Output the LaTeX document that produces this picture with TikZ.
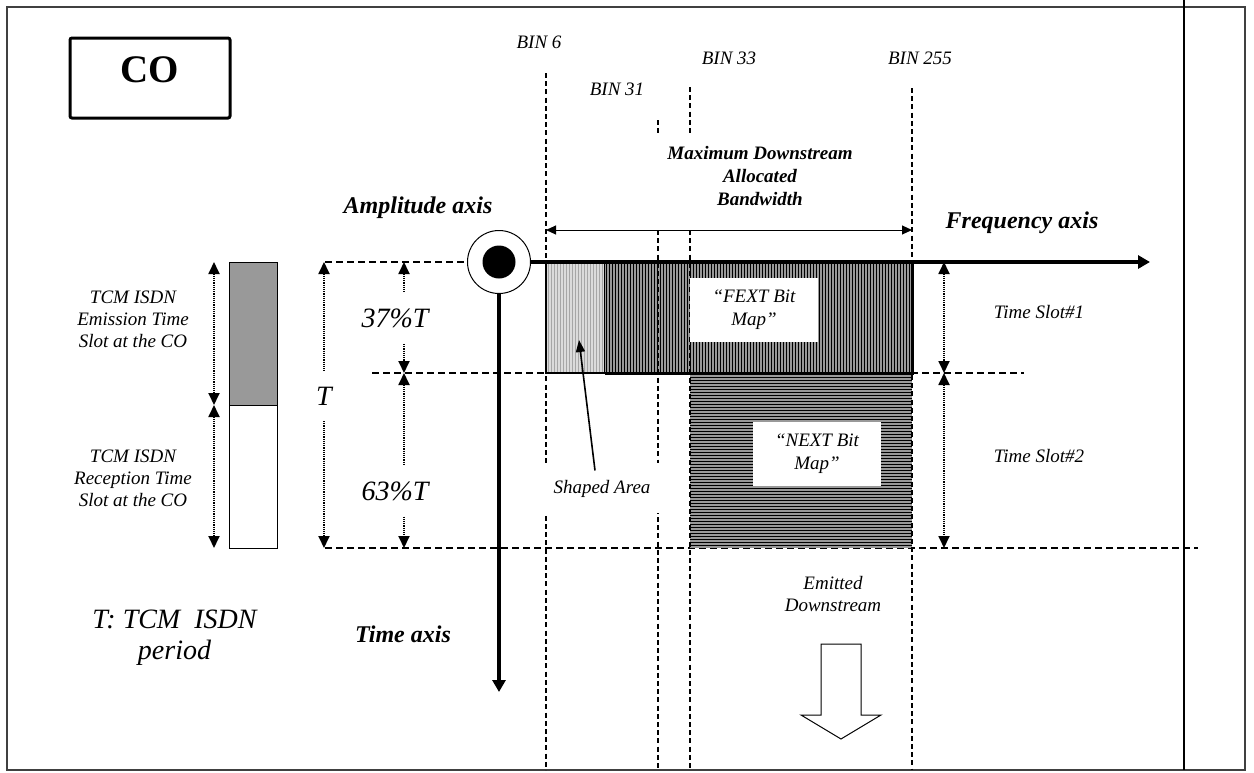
\documentclass[tikz,border=0pt]{standalone}
\usepackage{fontspec}
\setmainfont{Liberation Serif}
\usetikzlibrary{arrows.meta, positioning, calc}
\tikzset{
	txtlbl/.style={font=\fontsize{9.5}{11}\selectfont\itshape, align=center, inner sep=1pt},
	boldlbl/.style={font=\fontsize{9.5}{11.5}\selectfont\bfseries\itshape, align=center, inner sep=1pt},
	axislbl/.style={font=\fontsize{12}{14}\selectfont\bfseries\itshape, inner sep=0pt},
	biglbl/.style={font=\fontsize{14}{15.5}\selectfont\itshape, align=center, inner sep=1pt},
	dimlbl/.style={biglbl, fill=white, minimum height=25pt, anchor=base},
	mapbox/.style={fill=white, font=\fontsize{9.5}{11.5}\selectfont\itshape, align=center, minimum width=64pt, minimum height=32pt, inner sep=0pt},
	binline/.style={line width=0.9pt, dash pattern=on 2.5pt off 1.6pt},
	levelline/.style={line width=0.8pt, dash pattern=on 3.5pt off 2pt},
	dimarr/.style={{Triangle[length=6pt,width=5.5pt]}-{Triangle[length=6pt,width=5.5pt]}, line width=0.9pt, dash pattern=on 0.6pt off 0.5pt},
	bwarr/.style={{Triangle[length=5pt,width=4.5pt]}-{Triangle[length=5pt,width=4.5pt]}, line width=0.5pt},
	axisarr/.style={-{Triangle[length=6pt,width=6.5pt]}, line width=2pt},
	ptrarr/.style={-{Triangle[length=6pt,width=4.5pt]}, line width=0.8pt},
	hatchline/.style={line width=0.6pt},
}

\begin{document}
\begin{tikzpicture}[x=0.5pt, y=-0.5pt]
	\useasboundingbox (0,0) rectangle (1254,772);
	% frame
	\draw[line width=0.6pt, black!75] (7,7) rectangle (1245,770);
	\draw[line width=1pt] (1184,0) -- (1184,770);
	\node[draw, line width=1.5pt, rounded corners=1pt, minimum width=80pt, minimum height=40pt, text depth=8pt, font=\fontsize{19.5}{19.5}\selectfont\bfseries] (co) at (150,78) {CO};

	% time levels
	\draw[levelline] (325,262) -- (467,262);
	\draw[levelline] (372,373) -- (1024,373);
	\draw[levelline] (325,548) -- (1198,548);

	% shaped area, FEXT and NEXT maps
	\fill[black!14] (546,262) rectangle (605,373);
	\foreach \x in {548.5,551.5,...,604} \draw[hatchline, black!35] (\x,262) -- (\x,373);
	\draw[line width=0.6pt] (546,262) rectangle (605,373);
	\fill[black!40] (605,262) rectangle (912,373);
	\foreach \x in {606.5,609.5,...,911} \draw[hatchline] (\x,262) -- (\x,373);
	\fill[black!40] (690,373) rectangle (912,548);
	\foreach \y in {374.5,377.5,...,547} \draw[hatchline] (690,\y) -- (912,\y);
	\draw[line width=1.5pt] (605,373) -- (912,373) -- (912,262);

	% bins
	\draw[binline] (546,73) -- (546,770);
	\draw[binline] (658,120) -- (658,133);
	\draw[binline] (658,230) -- (658,770);
	\draw[binline] (690,87) -- (690,133);
	\draw[binline] (690,230) -- (690,770);
	\draw[binline] (912,88) -- (912,770);
	\node[txtlbl, anchor=base] (bin6) at (539,48) {BIN 6};
	\node[txtlbl, anchor=base] (bin31) at (617,95) {BIN 31};
	\node[txtlbl, anchor=base] (bin33) at (729,64) {BIN 33};
	\node[txtlbl, anchor=base] (bin255) at (920,64) {BIN 255};

	\coordinate (bwL) at (546,230);
	\coordinate (bwR) at (912,230);
	\draw[bwarr] (bwL) -- (bwR);
	\node[boldlbl] (bw) at (760,176) {Maximum Downstream\\Allocated\\Bandwidth};

	\node[mapbox] (fext) at (754,310) {“FEXT Bit\\Map”};
	\node[mapbox] (next) at (817,453.5) {“NEXT Bit\\Map”};

	% axes
	\node[circle, draw, fill=white, line width=0.5pt, minimum size=31.5pt, inner sep=0pt] (orig) at (499,262) {};
	\node[circle, fill, minimum size=16.5pt, inner sep=0pt] (dot) at (orig) {};
	\coordinate (fEnd) at (1150,262);
	\coordinate (tEnd) at (499,692);
	\draw[axisarr] (orig.east) -- (fEnd);
	\draw[axisarr] (orig.south) -- (tEnd);
	\node[axislbl, anchor=base] (amp) at (418,213) {Amplitude axis};
	\node[axislbl, anchor=base] (freq) at (1022,228) {Frequency axis};
	\node[axislbl, anchor=base] (time) at (403,642) {Time axis};

	% TCM ISDN period
	\draw[line width=0.5pt, fill=black!40] (229,262) rectangle (277,405);
	\draw[line width=0.5pt] (229,405) rectangle (277,548);
	\coordinate (pA) at (214,262);
	\coordinate (pB) at (214,405);
	\coordinate (pC) at (214,548);
	\draw[dimarr] (pA) -- (pB);
	\draw[dimarr] (pB) -- (pC);
	\node[txtlbl] (emis) at (133,319) {TCM ISDN\\Emission Time\\Slot at the CO};
	\node[txtlbl] (recp) at (133,478.5) {TCM ISDN\\Reception Time\\Slot at the CO};

	\coordinate (tA) at (324,262);
	\coordinate (tB) at (324,548);
	\draw[dimarr] (tA) -- (tB);
	\node[dimlbl] (T) at (324,405) {T};

	\coordinate (sA) at (404,262);
	\coordinate (sB) at (404,373);
	\coordinate (sC) at (404,548);
	\draw[dimarr] (sA) -- (sB);
	\draw[dimarr] (sB) -- (sC);
	\node[dimlbl] (p37) at (395,327) {37\%T};
	\node[dimlbl] (p63) at (395,500) {63\%T};

	\coordinate (rA) at (944,262);
	\coordinate (rB) at (944,373);
	\coordinate (rC) at (944,548);
	\draw[dimarr] (rA) -- (rB);
	\draw[dimarr] (rB) -- (rC);
	\node[txtlbl, anchor=base] (ts1) at (1039,318) {Time Slot\#1};
	\node[txtlbl, anchor=base] (ts2) at (1039,462) {Time Slot\#2};

	\node[biglbl] (period) at (174.5,638) {T: TCM\ \ ISDN\\period};

	% shaped area pointer
	\node[txtlbl, fill=white, minimum width=58pt, minimum height=25pt, anchor=base] (shaped) at (602,493) {Shaped Area};
	\coordinate (saPt) at (579,340);
	\draw[ptrarr] ($(shaped.center)+(-7,-18)$) -- (saPt);

	% emitted downstream
	\node[txtlbl] (emit) at (833,594) {Emitted\\Downstream};
	\draw[line width=0.5pt, fill=white] (821,644) -- (861,644) -- (861,715) -- (881,715) -- (841,739) -- (801,715) -- (821,715) -- cycle;
\end{tikzpicture}
\end{document}
